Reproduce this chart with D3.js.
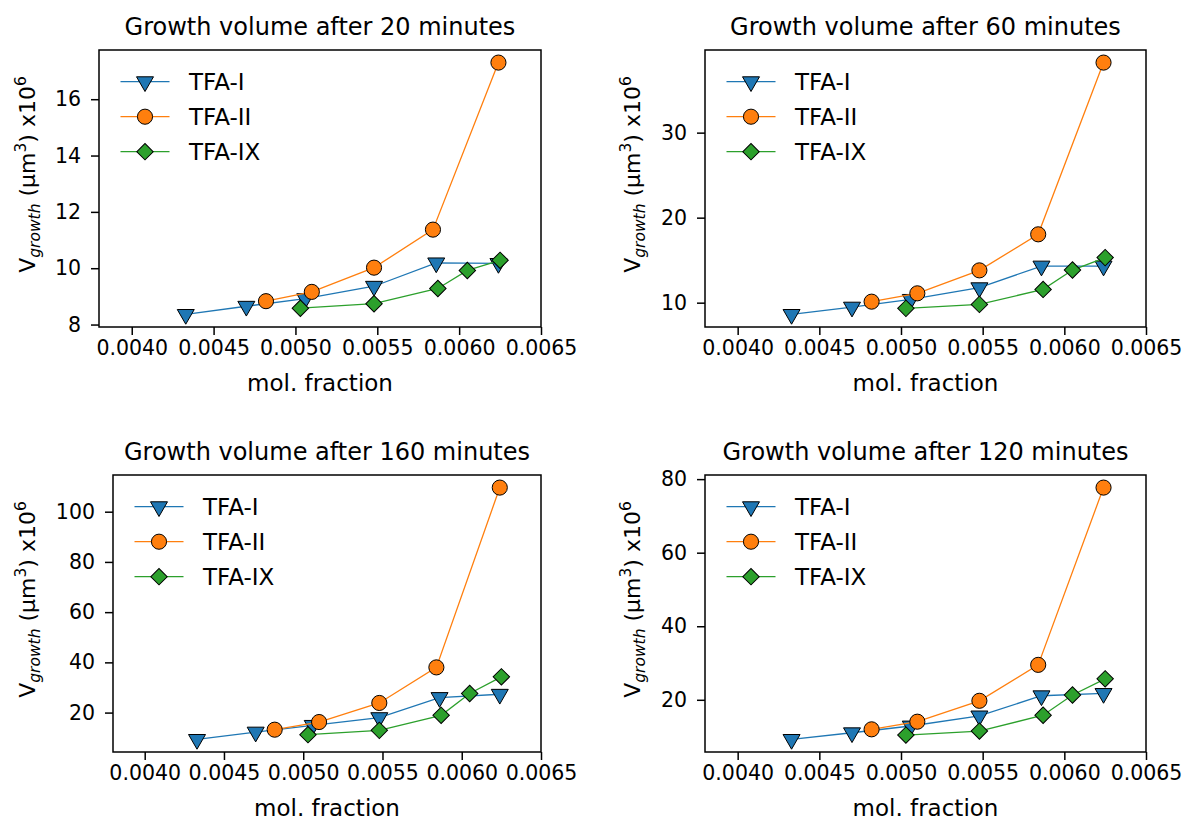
<!DOCTYPE html>
<html>
<head>
<meta charset="utf-8">
<script src="https://cdn.jsdelivr.net/npm/d3@7"></script>
<style>
  body { margin: 0; background: #fff; }
  text { font-family: "DejaVu Sans", sans-serif; fill: #000; }
</style>
</head>
<body>
<svg id="fig" width="1184" height="822"></svg>
<script>
// mol. fraction of each series
const molI  = [0.00433, 0.00470, 0.00506, 0.00548, 0.00586, 0.00624];
const molII = [0.00482, 0.00510, 0.00548, 0.00584, 0.00624];
const molIX = [0.00503, 0.00548, 0.00587, 0.00605, 0.00625];

// growth volume (x10^6 um^3)
const vol20I  = [8.36, 8.65, 8.92, 9.36, 10.19, 10.17];
const vol20II = [8.83, 9.16, 10.02, 11.37, 17.30];
const vol20IX = [8.58, 8.74, 9.28, 9.92, 10.28];

const vol60I  = [8.62, 9.48, 10.39, 11.76, 14.31, 14.31];
const vol60II = [10.12, 11.10, 13.80, 18.04, 38.24];
const vol60IX = [9.33, 9.80, 11.56, 13.84, 15.30];

const vol160I  = [9.32, 12.24, 14.92, 18.00, 26.00, 27.30];
const vol160II = [13.20, 16.24, 23.84, 38.00, 109.60];
const vol160IX = [11.20, 12.92, 18.92, 27.60, 34.24];

const vol120I  = [9.23, 11.04, 12.88, 15.62, 21.10, 21.73];
const vol120II = [11.97, 14.05, 19.73, 29.50, 77.70];
const vol120IX = [10.41, 11.50, 15.80, 21.30, 25.70];

const seriesNames = ["TFA-I", "TFA-II", "TFA-IX"];
const xTicks = [0.0040, 0.0045, 0.0050, 0.0055, 0.0060, 0.0065];
const yTicks20 = [8, 10, 12, 14, 16];
const yTicks60 = [10, 20, 30];
const yTicks160 = [20, 40, 60, 80, 100];
const yTicks120 = [20, 40, 60, 80];
const minutes = [20, 60, 160, 120];

const colours = ["#1f77b4", "#ff7f0e", "#2ca02c"];
const symbols = [
  {type: d3.symbolTriangle, size: 125, rot: 180},
  {type: d3.symbolCircle, size: 180, rot: 0},
  {type: d3.symbolSquare, size: 135, rot: 45}
];

// axes boxes (left, top, right, bottom)
const boxes = [
  [99, 50, 541, 327],
  [705, 50, 1146, 327],
  [113, 475, 541, 752],
  [705, 475, 1146, 752]
];

const panels = [
  {min: minutes[0], ys: [vol20I, vol20II, vol20IX], ticks: yTicks20},
  {min: minutes[1], ys: [vol60I, vol60II, vol60IX], ticks: yTicks60},
  {min: minutes[2], ys: [vol160I, vol160II, vol160IX], ticks: yTicks160},
  {min: minutes[3], ys: [vol120I, vol120II, vol120IX], ticks: yTicks120}
];
const mols = [molI, molII, molIX];

const svg = d3.select("#fig");

panels.forEach((p, i) => {
  const [x0, y0, x1, y1] = boxes[i];
  const g = svg.append("g");

  const all = p.ys.flat();
  const [lo, hi] = d3.extent(all);
  const pad = (hi - lo) * 0.05;

  const x = d3.scaleLinear().domain([0.0038, 0.0065]).range([x0, x1]);
  const y = d3.scaleLinear().domain([lo - pad, hi + pad]).range([y1, y0]);

  // axes
  g.append("g")
    .attr("transform", `translate(0,${y1})`)
    .call(d3.axisBottom(x).tickValues(xTicks).tickFormat(d3.format(".4f")).tickSize(8).tickPadding(5))
    .call(a => a.select(".domain").remove())
    .call(a => a.selectAll("line").attr("stroke-width", 1.5))
    .call(a => a.selectAll("text").attr("font-size", 20.5).attr("font-family", "DejaVu Sans"));

  g.append("g")
    .attr("transform", `translate(${x0},0)`)
    .call(d3.axisLeft(y).tickValues(p.ticks).tickFormat(d3.format("d")).tickSize(8).tickPadding(10))
    .call(a => a.select(".domain").remove())
    .call(a => a.selectAll("line").attr("stroke-width", 1.5))
    .call(a => a.selectAll("text").attr("font-size", 20.5).attr("font-family", "DejaVu Sans"));

  g.append("rect")
    .attr("x", x0).attr("y", y0)
    .attr("width", x1 - x0).attr("height", y1 - y0)
    .attr("fill", "none").attr("stroke", "#000").attr("stroke-width", 1.5);

  // title and labels
  g.append("text")
    .attr("x", (x0 + x1) / 2).attr("y", y0 - 15)
    .attr("text-anchor", "middle").attr("font-size", 24)
    .text(`Growth volume after ${p.min} minutes`);

  g.append("text")
    .attr("x", (x0 + x1) / 2).attr("y", y1 + 64)
    .attr("text-anchor", "middle").attr("font-size", 23)
    .text("mol. fraction");

  const labX = i % 2 === 0 ? 35 : 640;
  const yl = g.append("text")
    .attr("transform", `translate(${labX},${(y0 + y1) / 2 - 14}) rotate(-90)`)
    .attr("text-anchor", "middle").attr("font-size", 22);
  yl.append("tspan").text("V");
  yl.append("tspan").attr("font-size", 15.5).attr("font-style", "italic").attr("dy", 5).text("growth");
  yl.append("tspan").attr("dy", -5).text(" (µm");
  yl.append("tspan").attr("font-size", 15.5).attr("dy", -9).text("3");
  yl.append("tspan").attr("dy", 9).text(") x10");
  yl.append("tspan").attr("font-size", 15.5).attr("dy", -9).text("6");

  // series
  const line = d3.line();
  p.ys.forEach((vals, s) => {
    const pts = vals.map((v, k) => [x(mols[s][k]), y(v)]);
    g.append("path")
      .attr("d", line(pts))
      .attr("fill", "none")
      .attr("stroke", colours[s])
      .attr("stroke-width", 1.3);
    g.append("g").selectAll("path")
      .data(pts)
      .join("path")
        .attr("transform", d => `translate(${d[0]},${d[1]}) rotate(${symbols[s].rot})`)
        .attr("d", d3.symbol(symbols[s].type, symbols[s].size))
        .attr("fill", colours[s])
        .attr("stroke", "#000")
        .attr("stroke-width", 1);
  });

  // legend
  const lg = g.append("g").attr("transform", `translate(${x0},${y0})`);
  seriesNames.forEach((name, s) => {
    const ry = 31.7 + s * 35;
    lg.append("line")
      .attr("x1", 21.5).attr("x2", 70.5).attr("y1", ry).attr("y2", ry)
      .attr("stroke", colours[s]).attr("stroke-width", 1.3);
    lg.append("path")
      .attr("transform", `translate(46,${ry}) rotate(${symbols[s].rot})`)
      .attr("d", d3.symbol(symbols[s].type, symbols[s].size))
      .attr("fill", colours[s]).attr("stroke", "#000").attr("stroke-width", 1);
    lg.append("text")
      .attr("x", 90).attr("y", ry).attr("dy", "0.36em")
      .attr("font-size", 23)
      .text(name);
  });
});
</script>
</body>
</html>
